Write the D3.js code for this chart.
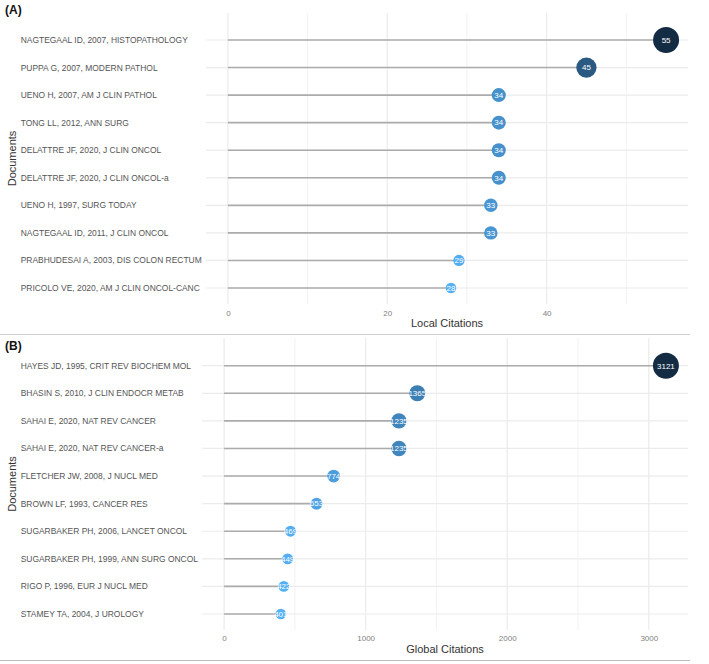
<!DOCTYPE html>
<html>
<head>
<meta charset="utf-8">
<script src="https://cdn.jsdelivr.net/npm/d3@7"></script>
<style>
  html, body { margin: 0; padding: 0; background: #fff; }
  svg { display: block; font-family: "Liberation Sans", Arial, Helvetica, sans-serif; }
</style>
</head>
<body>
<svg id="chart" width="709" height="664"></svg>
<script>
// ---- data ----
const docsA = [
  "NAGTEGAAL ID, 2007, HISTOPATHOLOGY",
  "PUPPA G, 2007, MODERN PATHOL",
  "UENO H, 2007, AM J CLIN PATHOL",
  "TONG LL, 2012, ANN SURG",
  "DELATTRE JF, 2020, J CLIN ONCOL",
  "DELATTRE JF, 2020, J CLIN ONCOL-a",
  "UENO H, 1997, SURG TODAY",
  "NAGTEGAAL ID, 2011, J CLIN ONCOL",
  "PRABHUDESAI A, 2003, DIS COLON RECTUM",
  "PRICOLO VE, 2020, AM J CLIN ONCOL-CANC"
];
const valuesA = [55, 45, 34, 34, 34, 34, 33, 33, 29, 28];
const ticksA = [0, 20, 40];
const minorTicksA = [10, 30, 50];

const docsB = [
  "HAYES JD, 1995, CRIT REV BIOCHEM MOL",
  "BHASIN S, 2010, J CLIN ENDOCR METAB",
  "SAHAI E, 2020, NAT REV CANCER",
  "SAHAI E, 2020, NAT REV CANCER-a",
  "FLETCHER JW, 2008, J NUCL MED",
  "BROWN LF, 1993, CANCER RES",
  "SUGARBAKER PH, 2006, LANCET ONCOL",
  "SUGARBAKER PH, 1999, ANN SURG ONCOL",
  "RIGO P, 1996, EUR J NUCL MED",
  "STAMEY TA, 2004, J UROLOGY"
];
const valuesB = [3121, 1365, 1235, 1235, 774, 653, 469, 449, 422, 401];
const ticksB = [0, 1000, 2000, 3000];
const minorTicksB = [500, 1500, 2500];

const svg = d3.select("#chart");

function drawPanel(cfg) {
  const g = svg.append("g");
  const maxV = d3.max(cfg.values), minV = d3.min(cfg.values);
  const pad = maxV * 0.05;
  const x = d3.scaleLinear().domain([-pad, maxV + pad]).range([cfg.left, cfg.right]);
  const y = d3.scalePoint().domain(cfg.docs).range([cfg.rowTop, cfg.rowBottom]);
  const color = d3.scaleLinear().domain([minV, maxV])
    .range(["#56B1F7", "#132B43"]).interpolate(d3.interpolateLab);
  const r = d3.scaleLinear().domain([minV, maxV]).range([5.3, 13]);

  g.selectAll(".minor").data(cfg.minor).join("line")
    .attr("x1", d => x(d)).attr("x2", d => x(d))
    .attr("y1", cfg.top).attr("y2", cfg.bottom)
    .attr("stroke", "#f2f2f2").attr("stroke-width", 1);
  g.selectAll(".major").data(cfg.ticks).join("line")
    .attr("x1", d => x(d)).attr("x2", d => x(d))
    .attr("y1", cfg.top).attr("y2", cfg.bottom)
    .attr("stroke", "#ebebeb").attr("stroke-width", 1.2);
  g.selectAll(".hgrid").data(cfg.docs).join("line")
    .attr("x1", cfg.left).attr("x2", cfg.right)
    .attr("y1", d => y(d)).attr("y2", d => y(d))
    .attr("stroke", "#ebebeb").attr("stroke-width", 1.2);

  g.selectAll(".seg").data(cfg.docs).join("line")
    .attr("x1", x(0)).attr("x2", (d, i) => x(cfg.values[i]))
    .attr("y1", d => y(d)).attr("y2", d => y(d))
    .attr("stroke", "#ababab").attr("stroke-width", 1.6);

  g.selectAll(".dot").data(cfg.docs).join("circle")
    .attr("cx", (d, i) => x(cfg.values[i]))
    .attr("cy", d => y(d))
    .attr("r", (d, i) => r(cfg.values[i]))
    .attr("fill", (d, i) => color(cfg.values[i]));

  g.selectAll(".val").data(cfg.docs).join("text")
    .attr("x", (d, i) => x(cfg.values[i]))
    .attr("y", d => y(d))
    .attr("dy", "0.35em")
    .attr("text-anchor", "middle")
    .attr("font-size", 8)
    .attr("fill", "#ffffff")
    .text((d, i) => cfg.values[i]);

  g.selectAll(".ylab").data(cfg.docs).join("text")
    .attr("x", 20.7)
    .attr("y", d => y(d))
    .attr("dy", "0.35em")
    .attr("font-size", 8.45)
    .attr("fill", "#555555")
    .text(d => d);

  const xAxis = d3.axisBottom(x).tickValues(cfg.ticks).tickFormat(d3.format("d"))
    .tickSize(0).tickPadding(0);
  const ax = g.append("g").attr("transform", `translate(0,${cfg.tickY})`).call(xAxis);
  ax.select(".domain").remove();
  ax.selectAll("text").attr("font-size", 8).attr("fill", "#7f7f7f")
    .attr("dy", "0.35em").attr("y", 0)
    .attr("font-family", "'Liberation Sans', Arial, sans-serif");

  g.append("text")
    .attr("x", (cfg.left + cfg.right) / 2).attr("y", cfg.titleY)
    .attr("dy", "0.35em").attr("text-anchor", "middle")
    .attr("font-size", 11).attr("fill", "#333333")
    .text(cfg.xTitle);

  g.append("text")
    .attr("transform", `translate(12,${(cfg.top + cfg.bottom) / 2}) rotate(-90)`)
    .attr("dy", "0.35em").attr("text-anchor", "middle")
    .attr("font-size", 11).attr("fill", "#333333")
    .text("Documents");

  g.append("text")
    .attr("x", 5).attr("y", cfg.letterY)
    .attr("dy", "0.35em")
    .attr("font-size", 12).attr("font-weight", "bold").attr("fill", "#111")
    .text(cfg.letter);
}

drawPanel({
  docs: docsA, values: valuesA, ticks: ticksA, minor: minorTicksA,
  left: 206, right: 688, top: 13, bottom: 304, rowTop: 40, rowBottom: 288,
  tickY: 313, titleY: 323.5, xTitle: "Local Citations", letter: "(A)", letterY: 10
});
drawPanel({
  docs: docsB, values: valuesB, ticks: ticksB, minor: minorTicksB,
  left: 202, right: 688, top: 338, bottom: 630, rowTop: 365.7, rowBottom: 614,
  tickY: 638.3, titleY: 649.5, xTitle: "Global Citations", letter: "(B)", letterY: 346
});

svg.append("line").attr("x1", 0).attr("x2", 690).attr("y1", 334.5).attr("y2", 334.5)
  .attr("stroke", "#cfcfcf").attr("stroke-width", 1);
svg.append("line").attr("x1", 0).attr("x2", 690).attr("y1", 660.5).attr("y2", 660.5)
  .attr("stroke", "#bdbdbd").attr("stroke-width", 1);
</script>
</body>
</html>
